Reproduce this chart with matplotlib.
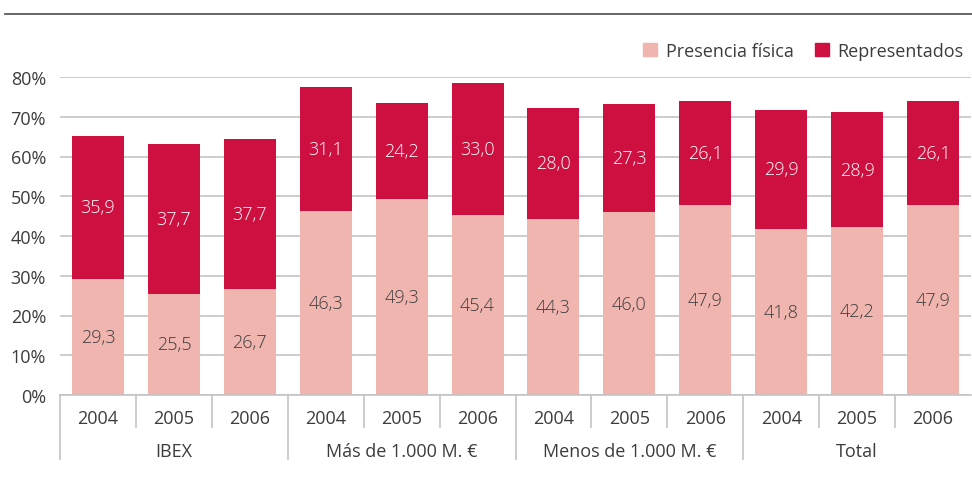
import numpy as np
import matplotlib.pyplot as plt
from matplotlib.lines import Line2D
from matplotlib.patches import Patch

# ============================
# Daten
# ============================
groups = ["IBEX", "Más de 1.000 M. €", "Menos de 1.000 M. €", "Total"]
years = ["2004", "2005", "2006"]
presencia = [29.3, 25.5, 26.7, 46.3, 49.3, 45.4, 44.3, 46.0, 47.9, 41.8, 42.2, 47.9]
representados = [35.9, 37.7, 37.7, 31.1, 24.2, 33.0, 28.0, 27.3, 26.1, 29.9, 28.9, 26.1]
yticks = [0, 10, 20, 30, 40, 50, 60, 70, 80]

# ============================
# Stil
# ============================
C_PRES = "#EFB5AE"
C_REP = "#CE1041"
C_TXT = "#3C3C3C"
C_GRID = "#C4C4C4"
plt.rcParams["font.family"] = ["Open Sans", "DejaVu Sans"]
FS = 13


def fmt(v):
    return f"{v:.1f}".replace(".", ",")


fig = plt.figure(figsize=(9.72, 4.81), dpi=100)
ax = fig.add_axes([60 / 972, 85 / 481, 911 / 972, 318 / 481])

n = len(presencia)
x = np.arange(n)
w = 0.685
ax.bar(x, presencia, w, color=C_PRES, zorder=2)
ax.bar(x, representados, w, bottom=presencia, color=C_REP, zorder=2)

for xi, p, r in zip(x, presencia, representados):
    ax.text(xi, p / 2, fmt(p), ha="center", va="center", fontsize=FS,
            color=C_TXT, fontweight="light", zorder=3)
    ax.text(xi, p + r / 2, fmt(r), ha="center", va="center", fontsize=FS,
            color="white", fontweight="light", zorder=3)

ax.set_xlim(-0.5, n - 0.5)
ax.set_ylim(0, 80)
ax.set_yticks(yticks)
ax.set_yticklabels([f"{t}%" for t in yticks], fontsize=FS, color=C_TXT)
ax.tick_params(axis="y", length=0, pad=10)
ax.set_xticks([])
ax.yaxis.grid(True, color=C_GRID, lw=1.2, zorder=0)
for s in ["left", "right", "top"]:
    ax.spines[s].set_visible(False)
ax.spines["bottom"].set_color(C_GRID)
ax.spines["bottom"].set_linewidth(1.2)

# Zweistufige x-Achse
trans = ax.get_xaxis_transform()
h = 318.0
for i in range(n):
    sep = i - 0.5
    depth = 64 / h if i % 3 == 0 else 32 / h
    ax.add_line(Line2D([sep, sep], [0, -depth], transform=trans, color=C_GRID,
                       lw=1.2, clip_on=False))
    ax.text(i, -23 / h, years[i % 3], transform=trans, ha="center", va="center",
            fontsize=FS, color=C_TXT)
for g, name in enumerate(groups):
    ax.text(g * 3 + 1, -56 / h, name, transform=trans, ha="center", va="center",
            fontsize=FS, color=C_TXT)

# Legende
handles = [Patch(color=C_PRES, label="Presencia física"),
           Patch(color=C_REP, label="Representados")]
ax.legend(handles=handles, loc="center right", bbox_to_anchor=(1.0, 1.082),
          ncol=2, frameon=False, fontsize=FS, handlelength=0.75, handleheight=0.75,
          handletextpad=0.5, columnspacing=1.2, labelcolor=C_TXT, borderaxespad=0)

# Linie oben
fig.add_artist(Line2D([5 / 972, 1.0], [1 - 15 / 481, 1 - 15 / 481],
                      transform=fig.transFigure, color="#5A5A5A", lw=1.3))

fig.savefig("out.png", dpi=100)
